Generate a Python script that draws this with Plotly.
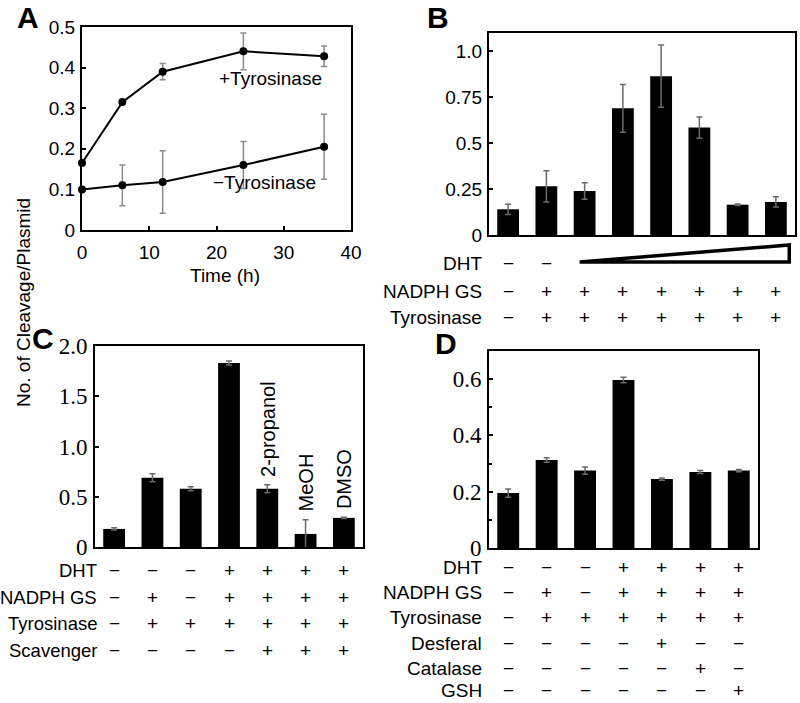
import plotly.graph_objects as go

W, H = 800, 703
SANS = "Liberation Sans"
SERIF = "Liberation Serif"
MINUS = "\u2212"

# ---------------- Panel A data ----------------
time_h = [0, 6, 12, 24, 36]
plus_tyr = [0.165, 0.315, 0.39, 0.44, 0.428]
plus_tyr_err = [0.0, 0.004, 0.02, 0.045, 0.025]
minus_tyr = [0.10, 0.11, 0.118, 0.16, 0.205]
minus_tyr_err = [0.0, 0.05, 0.077, 0.058, 0.08]

# ---------------- Panel B data ----------------
b_vals = [0.14, 0.265, 0.24, 0.69, 0.865, 0.585, 0.165, 0.18]
b_err = [0.028, 0.085, 0.045, 0.13, 0.17, 0.058, 0.004, 0.028]
b_dht = [MINUS, MINUS, "", "", "", "", "", ""]
b_nadph = [MINUS, "+", "+", "+", "+", "+", "+", "+"]
b_tyr = [MINUS, "+", "+", "+", "+", "+", "+", "+"]
b_ticks = [0, 0.25, 0.5, 0.75, 1.0]
b_ticktext = ["0", "0.25", "0.5", "0.75", "1.0"]

# ---------------- Panel C data ----------------
c_vals = [0.18, 0.69, 0.58, 1.83, 0.58, 0.13, 0.29]
c_err = [0.012, 0.04, 0.02, 0.02, 0.04, 0.14, 0.006]
c_dht = [MINUS, MINUS, MINUS, "+", "+", "+", "+"]
c_nadph = [MINUS, "+", MINUS, "+", "+", "+", "+"]
c_tyr = [MINUS, "+", "+", "+", "+", "+", "+"]
c_scav = [MINUS, MINUS, MINUS, MINUS, "+", "+", "+"]
c_scav_names = ["", "", "", "", "2-propanol", "MeOH", "DMSO"]
c_ticks = [0, 0.5, 1.0, 1.5, 2.0]
c_ticktext = ["0", "0.5", "1.0", "1.5", "2.0"]

# ---------------- Panel D data ----------------
d_vals = [0.195, 0.313, 0.275, 0.597, 0.245, 0.27, 0.275]
d_err = [0.015, 0.008, 0.013, 0.01, 0.004, 0.005, 0.004]
d_dht = [MINUS, MINUS, MINUS, "+", "+", "+", "+"]
d_nadph = [MINUS, "+", MINUS, "+", "+", "+", "+"]
d_tyr = [MINUS, "+", "+", "+", "+", "+", "+"]
d_desf = [MINUS, MINUS, MINUS, MINUS, "+", MINUS, MINUS]
d_cat = [MINUS, MINUS, MINUS, MINUS, MINUS, "+", MINUS]
d_gsh = [MINUS, MINUS, MINUS, MINUS, MINUS, MINUS, "+"]
d_ticks = [0, 0.2, 0.4, 0.6]
d_ticktext = ["0", "0.2", "0.4", "0.6"]


def py(px):
    return 1 - px / H


def px_x(px):
    return px / W


fig = go.Figure()

ERR_COL = "#8a8a8a"

# Panel A traces
for ys, es in [(plus_tyr, plus_tyr_err), (minus_tyr, minus_tyr_err)]:
    fig.add_trace(go.Scatter(
        x=time_h, y=ys, mode="lines+markers",
        line=dict(color="black", width=2),
        marker=dict(color="black", size=8),
        error_y=dict(type="data", array=es, color=ERR_COL, thickness=1.5, width=3),
        xaxis="x", yaxis="y", showlegend=False, cliponaxis=False))


def bars(vals, errs, xa, ya):
    fig.add_trace(go.Bar(
        x=list(range(len(vals))), y=vals, marker=dict(color="black", line=dict(width=0)),
        error_y=dict(type="data", array=errs, color="#6a6a6a", thickness=1.5, width=3),
        xaxis=xa, yaxis=ya, showlegend=False))


bars(b_vals, b_err, "x2", "y2")
bars(c_vals, c_err, "x3", "y3")
bars(d_vals, d_err, "x4", "y4")

axis_common = dict(showline=True, linecolor="black", linewidth=2, mirror=True,
                   showgrid=False, zeroline=False, ticks="inside", tickcolor="black",
                   tickwidth=1.5, ticklen=4, automargin=False)

sans_tick = dict(family=SANS, size=19, color="black")
serif_tick = dict(family=SERIF, size=23, color="black")

fig.update_layout(
    width=W, height=H, autosize=False,
    margin=dict(l=0, r=0, t=0, b=0, pad=0),
    paper_bgcolor="white", plot_bgcolor="white",
    bargap=0.43,
    xaxis=dict(domain=[px_x(82), px_x(351)], range=[0, 40], dtick=10, anchor="y",
               tickfont=sans_tick, ticklabelstandoff=4, **axis_common),
    yaxis=dict(domain=[py(230), py(27)], range=[0, 0.5], dtick=0.1, anchor="x",
               tickformat=".1~f", tickfont=sans_tick, ticklabelstandoff=1, **axis_common),
    xaxis2=dict(domain=[px_x(489), px_x(795)], range=[-0.5, 7.5], anchor="y2",
                showticklabels=False, **{**axis_common, "ticks": ""}),
    yaxis2=dict(domain=[py(235), py(33)], range=[0, 1.1], anchor="x2",
                tickvals=b_ticks, ticktext=b_ticktext, tickfont=sans_tick,
                ticklabelstandoff=1, **axis_common),
    xaxis3=dict(domain=[px_x(95), px_x(363)], range=[-0.5, 6.5], anchor="y3",
                showticklabels=False, **{**axis_common, "ticks": ""}),
    yaxis3=dict(domain=[py(547), py(346)], range=[0, 2.0], anchor="x3",
                tickvals=c_ticks, ticktext=c_ticktext, tickfont=serif_tick,
                ticklabelstandoff=1, **axis_common),
    xaxis4=dict(domain=[px_x(489), px_x(758)], range=[-0.5, 6.5], anchor="y4",
                showticklabels=False, **{**axis_common, "ticks": ""}),
    yaxis4=dict(domain=[py(548), py(351)], range=[0, 0.7], anchor="x4",
                tickvals=d_ticks, ticktext=d_ticktext, tickfont=serif_tick,
                ticklabelstandoff=1,
                minor=dict(dtick=0.1, ticks="inside", ticklen=3, tickcolor="black"),
                **axis_common),
)

ann = []
txt_font = dict(family=SANS, size=19, color="black")

# Panel letters
for letter, x, y in [("A", 28, 18), ("B", 438, 17), ("C", 43, 338), ("D", 446, 343)]:
    ann.append(dict(text=f"<b>{letter}</b>", x=px_x(x), y=py(y), xref="paper", yref="paper",
                    showarrow=False, xanchor="center", yanchor="middle",
                    font=dict(family=SANS, size=30, color="black")))

# Panel A texts
ann.append(dict(text="+Tyrosinase", x=20, y=0.374, xref="x", yref="y", showarrow=False,
                xanchor="left", yanchor="middle", font=txt_font))
ann.append(dict(text=MINUS + "Tyrosinase", x=19.2, y=0.116, xref="x", yref="y", showarrow=False,
                xanchor="left", yanchor="middle", font=txt_font))
ann.append(dict(text="Time (h)", x=px_x(225), y=py(275), xref="paper", yref="paper",
                showarrow=False, xanchor="center", yanchor="middle", font=txt_font))
ann.append(dict(text="No. of Cleavage/Plasmid", x=px_x(23), y=py(303), xref="paper", yref="paper",
                showarrow=False, xanchor="center", yanchor="middle", textangle=-90,
                font=txt_font))


def rows(labels_rows, xref, label_right_px, size=19):
    f = dict(family=SANS, size=size, color="black")
    for name, signs, ypx in labels_rows:
        ann.append(dict(text=name, x=px_x(label_right_px), y=py(ypx), xref="paper", yref="paper",
                        showarrow=False, xanchor="right", yanchor="middle", font=f))
        for i, s in enumerate(signs):
            if s:
                ann.append(dict(text=s, x=i, y=py(ypx), xref=xref, yref="paper",
                                showarrow=False, xanchor="center", yanchor="middle",
                                font=txt_font))


rows([("DHT", b_dht, 263), ("NADPH GS", b_nadph, 291), ("Tyrosinase", b_tyr, 317)], "x2", 484)
rows([("DHT", c_dht, 570), ("NADPH GS", c_nadph, 597), ("Tyrosinase", c_tyr, 623),
      ("Scavenger", c_scav, 650)], "x3", 99, size=18.5)
rows([("DHT", d_dht, 567), ("NADPH GS", d_nadph, 592), ("Tyrosinase", d_tyr, 617),
      ("Desferal", d_desf, 643), ("Catalase", d_cat, 668), ("GSH", d_gsh, 690)], "x4", 484)

# Scavenger names above bars in C
for i, name in enumerate(c_scav_names):
    if name:
        ann.append(dict(text=name, x=i, y=c_vals[i] + c_err[i] + 0.06, xref="x3", yref="y3",
                        showarrow=False, xanchor="center", yanchor="bottom", textangle=-90,
                        font=dict(family=SANS, size=20, color="black")))

fig.update_layout(annotations=ann)

# DHT gradient triangle in B
fig.add_shape(type="path", xref="x2", yref="paper",
              path=f"M 1.87,{py(262)} L 7.35,{py(262)} L 7.35,{py(245)} Z",
              line=dict(color="black", width=3.5), fillcolor="white")

fig.write_html(
    "out.html",
    config=dict(displayModeBar=False),
    post_script="document.body.style.margin='0';document.body.style.overflow='hidden';",
)
